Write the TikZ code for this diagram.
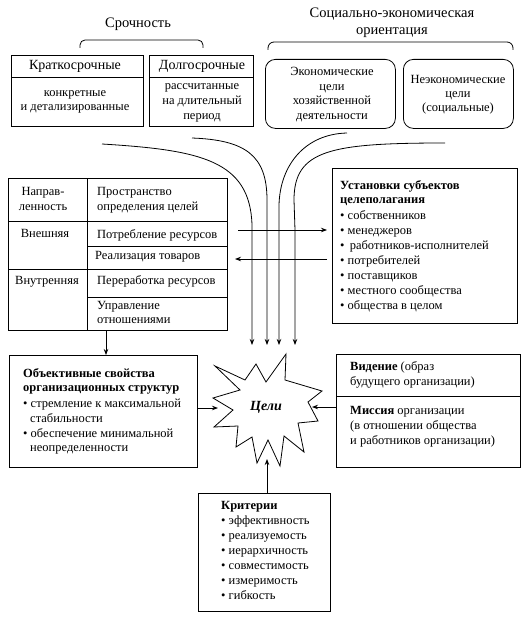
\documentclass[tikz,border=0pt]{standalone}
\usepackage{fontspec}
\setmainfont{Liberation Serif}
\usetikzlibrary{arrows.meta}
\newcommand\fs{\fontsize{12.5}{15}\selectfont}
\newcommand\fh{\fontsize{14.5}{17}\selectfont}
\newcommand\fb{\fontsize{14}{16}\selectfont}
\begin{document}
\begin{tikzpicture}[x=1pt,y=-1pt,
  box/.style={draw,line width=0.8pt,inner sep=0pt,anchor=north west},
  lt/.style={inner sep=0pt,anchor=mid west,font=\fs},
  ct/.style={inner sep=0pt,anchor=mid,font=\fs},
  hd/.style={inner sep=0pt,anchor=mid,font=\fh},
  bh/.style={inner sep=0pt,anchor=mid,font=\fb},
  ln/.style={line width=0.8pt},
  arr/.style={line width=0.8pt,-{Stealth[length=6pt,width=4.5pt]}}]
\useasboundingbox (0,0) rectangle (523,618);

% headings and braces
\node[hd] (hS) at (138,25) {Срочность};
\node[hd] (hO1) at (392,15) {Социально-экономическая};
\node[hd] (hO2) at (392,32) {ориентация};
\draw[ln,rounded corners=5pt] (80,48) -- (80,40) -- (203,40) -- (203,48);
\draw[ln,rounded corners=6pt] (268,50) -- (268,42) -- (513,42) -- (513,50);

% short-term box
\node[box,minimum width=132pt,minimum height=71pt] (bK) at (11,55) {};
\draw[ln] (bK.west |- 0,77) -- (bK.east |- 0,77);
\node[bh] (tK) at (75,67) {Краткосрочные};
\node[ct] (tK1) at (75,94) {конкретные};
\node[ct] (tK2) at (75,108) {и детализированные};

% long-term box
\node[box,minimum width=104pt,minimum height=71pt] (bD) at (149,55) {};
\draw[ln] (bD.west |- 0,77) -- (bD.east |- 0,77);
\node[bh] (tD) at (202,67) {Долгосрочные};
\node[ct] (tD1) at (202,87) {рассчитанные};
\node[ct] (tD2) at (202,102) {на длительный};
\node[ct] (tD3) at (202,117) {период};

% economic / non-economic
\node[box,rounded corners=10pt,minimum width=130pt,minimum height=69pt] (bE) at (265,59) {};
\node[ct] (tE1) at (332,73) {Экономические};
\node[ct] (tE2) at (332,88) {цели};
\node[ct] (tE3) at (332,102) {хозяйственной};
\node[ct] (tE4) at (332,117) {деятельности};
\node[box,rounded corners=10pt,minimum width=110pt,minimum height=69pt] (bN) at (403,59) {};
\node[ct] (tN1) at (458,81) {Неэкономические};
\node[ct] (tN2) at (458,95) {цели};
\node[ct] (tN3) at (458,109) {(социальные)};

% table
\node[box,minimum width=219pt,minimum height=152pt] (bT) at (8,178) {};
\draw[ln] (87,178) -- (87,330);
\draw[ln] (bT.west |- 0,221) -- (bT.east |- 0,221);
\draw[ln] (bT.west |- 0,269) -- (bT.east |- 0,269);
\draw[ln] (87,246) -- (bT.east |- 0,246);
\draw[ln] (87,297) -- (bT.east |- 0,297);
\node[ct] (tT1) at (43,193) {Направ-};
\node[ct] (tT2) at (43,208) {ленность};
\node[ct] (tT3) at (45,235) {Внешняя};
\node[ct] (tT4) at (47,282) {Внутренняя};
\node[lt] (tT5) at (97,193) {Пространство};
\node[lt] (tT6) at (97,208) {определения целей};
\node[lt] (tT7) at (97,236) {Потребление ресурсов};
\node[lt] (tT8) at (95,257) {Реализация товаров};
\node[lt] (tT9) at (97,282) {Переработка ресурсов};
\node[lt] (tT10) at (97,307) {Управление};
\node[lt] (tT11) at (97,321) {отношениями};

% subjects box
\node[box,minimum width=185pt,minimum height=155pt] (bU) at (332,168) {};
\node[lt] (tU1) at (340,187) {\bfseries Установки субъектов};
\node[lt] (tU2) at (340,201) {\bfseries целеполагания};
\node[lt] (tU3) at (340,217) {• собственников};
\node[lt] (tU4) at (340,232) {• менеджеров};
\node[lt] (tU5) at (340,247) {•\ \,работников-исполнителей};
\node[lt] (tU6) at (340,262) {• потребителей};
\node[lt] (tU7) at (340,277) {• поставщиков};
\node[lt] (tU8) at (340,292) {• местного сообщества};
\node[lt] (tU9) at (340,307) {• общества в целом};

% objective properties box
\node[box,minimum width=188pt,minimum height=112pt] (bP) at (9,355) {};
\node[lt] (tP1) at (23,375) {\bfseries Объективные свойства};
\node[lt] (tP2) at (23,389) {\bfseries организационных структур};
\node[lt] (tP3) at (23,405) {• стремление к максимальной};
\node[lt] (tP4) at (30,420) {стабильности};
\node[lt] (tP5) at (23,435) {• обеспечение минимальной};
\node[lt] (tP6) at (30,449) {неопределенности};

% vision / mission box
\node[box,minimum width=184pt,minimum height=113pt] (bV) at (336,354) {};
\draw[ln] (bV.west |- 0,396) -- (bV.east |- 0,396);
\node[lt] (tV1) at (350,368) {\textbf{Видение} (образ};
\node[lt] (tV2) at (350,383) {будущего организации)};
\node[lt] (tV3) at (350,412) {\textbf{Миссия} организации};
\node[lt] (tV4) at (350,427) {(в отношении общества};
\node[lt] (tV5) at (350,442) {и работников организации)};

% criteria box
\node[box,minimum width=132pt,minimum height=118pt] (bC) at (198,493) {};
\node[lt] (tC1) at (221,507) {\bfseries Критерии};
\node[lt] (tC2) at (221,522) {• эффективность};
\node[lt] (tC3) at (221,537) {• реализуемость};
\node[lt] (tC4) at (221,552) {• иерархичность};
\node[lt] (tC5) at (221,567) {• совместимость};
\node[lt] (tC6) at (221,582) {• измеримость};
\node[lt] (tC7) at (221,597) {• гибкость};

% star
\draw[ln] (286,354) -- (285,380) -- (322,391) -- (308,402) -- (318,421) -- (298,423)
  -- (304,452) -- (284,436) -- (280,466) -- (268,440) -- (257,463) -- (252,437)
  -- (236,447) -- (238,426) -- (214,427) -- (233,410) -- (213,398) -- (240,390)
  -- (215,366) -- (245,380) -- (256,364) -- (266,382) -- cycle;
\node[inner sep=0pt,anchor=mid,font=\fontsize{14}{16}\selectfont\bfseries\itshape] (star) at (266,408) {Цели};

% coordinates for connector ends
\coordinate (sL) at (218,408);
\coordinate (sR) at (312,407);
\coordinate (sB) at (267,459);
\coordinate (ha1) at (238,230);
\coordinate (ha2) at (327,230);
\coordinate (hb1) at (327,259);
\coordinate (hb2) at (235,259);
\coordinate (c1s) at (102,144);
\coordinate (c2s) at (192,138);
\coordinate (c3s) at (347,133);
\coordinate (c4s) at (445,143);
\coordinate (c1e) at (252,345);
\coordinate (c2e) at (267,345);
\coordinate (c3e) at (279,345);
\coordinate (c4e) at (295,345);

% curves
\draw[arr] (c1s) .. controls (200,150) and (250,160) .. (252,225) -- (c1e);
\draw[arr] (c2s) .. controls (245,140) and (267,155) .. (267,200) -- (c2e);
\draw[arr] (c3s) .. controls (305,134) and (280,165) .. (279,205) -- (c3e);
\draw[arr] (c4s) .. controls (330,143) and (294,150) .. (294,200) -- (295,230) -- (c4e);

% horizontal arrows
\draw[arr] (ha1) -- (ha2);
\draw[arr] (hb1) -- (hb2);

% other arrows
\draw[arr] (bT.south -| 106,0) -- (bP.north -| 106,0);
\draw[arr] (bP.east |- sL) -- (sL);
\draw[arr] (bV.west |- sR) -- (sR);
\draw[arr] (bC.north -| sB) -- (sB);
\end{tikzpicture}
\end{document}
